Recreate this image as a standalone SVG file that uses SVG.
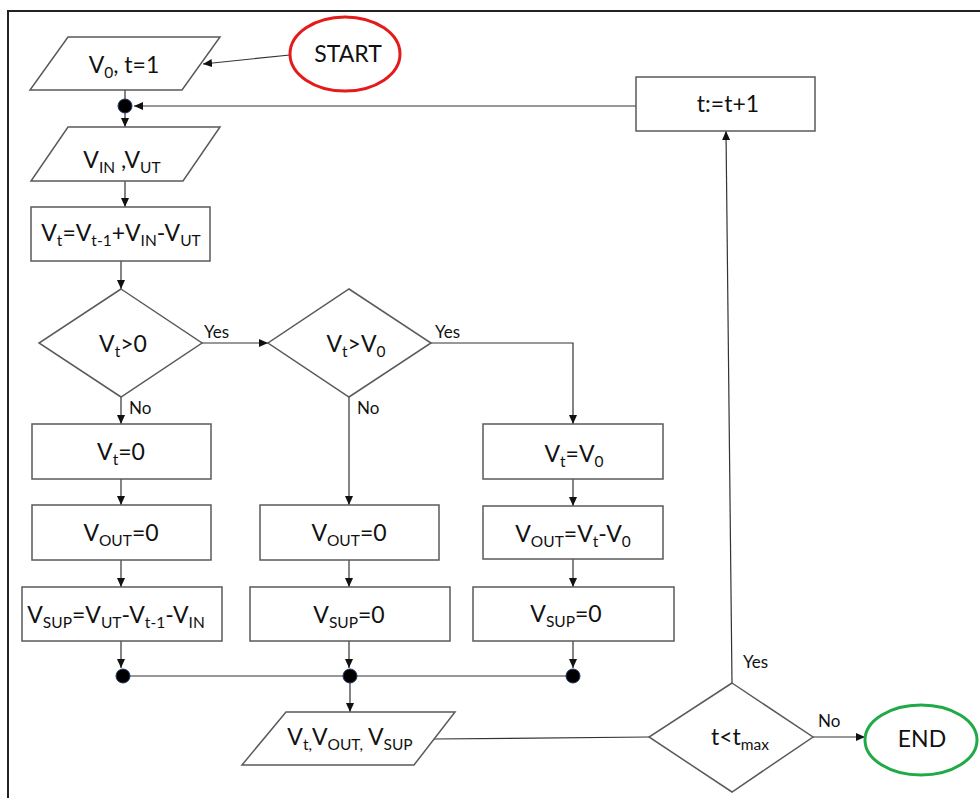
<svg xmlns="http://www.w3.org/2000/svg" width="980" height="798" viewBox="0 0 980 798">
<style>
.shape{fill:#fff;stroke:#5a5a5a;stroke-width:1.5}
.conn{fill:none;stroke:#333;stroke-width:1.2}
.arr{marker-end:url(#ah)}
.dot{fill:#000;stroke:#1f3864;stroke-width:1}
.t{font-family:Lato,"Liberation Sans",sans-serif;font-size:23px;fill:#111;text-anchor:middle}
.s{font-size:15.5px}
.lb{font-family:Lato,"Liberation Sans",sans-serif;font-size:17px;fill:#111}
</style>
<defs>
<marker id="ah" markerUnits="userSpaceOnUse" markerWidth="10" markerHeight="8" refX="9" refY="4" orient="auto">
<path d="M0,0 L9,4 L0,8 z" fill="#111"/>
</marker>
</defs>
<rect width="980" height="798" fill="#fff"/>
<path d="M8,798 V11 H980" fill="none" stroke="#222" stroke-width="2"/>

<g id="connectors">
<line class="conn arr" x1="290" y1="55" x2="203" y2="64"/>
<line class="conn" x1="125" y1="90" x2="125" y2="100"/>
<line class="conn arr" x1="636" y1="106" x2="134" y2="106"/>
<line class="conn arr" x1="125" y1="112" x2="125" y2="127"/>
<line class="conn arr" x1="125" y1="181" x2="125" y2="207"/>
<line class="conn arr" x1="121" y1="261" x2="121" y2="289"/>
<line class="conn arr" x1="202" y1="343" x2="268" y2="343"/>
<line class="conn arr" x1="121" y1="397" x2="121" y2="424"/>
<line class="conn arr" x1="121" y1="479" x2="121" y2="505"/>
<line class="conn arr" x1="121" y1="560" x2="121" y2="587"/>
<line class="conn arr" x1="121" y1="641" x2="121" y2="668"/>
<line class="conn arr" x1="349" y1="397" x2="349" y2="505"/>
<line class="conn arr" x1="349" y1="560" x2="349" y2="587"/>
<line class="conn arr" x1="349" y1="641" x2="349" y2="668"/>
<polyline class="conn arr" points="431,343 573,343 573,424"/>
<line class="conn arr" x1="573" y1="479" x2="573" y2="506"/>
<line class="conn arr" x1="573" y1="559" x2="573" y2="587"/>
<line class="conn arr" x1="573" y1="641" x2="573" y2="668"/>
<line class="conn" x1="123" y1="676" x2="573" y2="676"/>
<line class="conn arr" x1="350" y1="683" x2="350" y2="712"/>
<line class="conn" x1="433" y1="739" x2="649" y2="737"/>
<line class="conn arr" x1="732" y1="683" x2="726" y2="131"/>
<line class="conn arr" x1="813" y1="737" x2="865" y2="737"/>
<text class="lb" x="204" y="338">Yes</text>
<text class="lb" x="435" y="338">Yes</text>
<text class="lb" x="129" y="414">No</text>
<text class="lb" x="357" y="414">No</text>
<text class="lb" x="743" y="668">Yes</text>
<text class="lb" x="818" y="727">No</text>
</g>

<g id="start">
<ellipse cx="345" cy="54" rx="55" ry="37" fill="#fff" stroke="#e31b1b" stroke-width="3"/>
<text class="t" x="348" y="62">START</text>
</g>
<g id="init">
<polygon class="shape" points="68,37 220,37 182,90 30,90"/>
<text class="t" x="124" y="73">V<tspan class="s" dy="5">0</tspan><tspan dy="-5">, t=1</tspan></text>
</g>
<g id="junction-top"><circle class="dot" cx="125" cy="106" r="7"/></g>
<g id="input">
<polygon class="shape" points="68,127 220,127 183,181 31,181"/>
<text class="t" x="122" y="168">V<tspan class="s" dy="5">IN</tspan><tspan dy="-5"> ,V</tspan><tspan class="s" dy="5">UT</tspan></text>
</g>
<g id="balance">
<rect class="shape" x="31" y="207" width="179" height="54"/>
<text class="t" x="121" y="241">V<tspan class="s" dy="5">t</tspan><tspan dy="-5">=V</tspan><tspan class="s" dy="5">t-1</tspan><tspan dy="-5">+V</tspan><tspan class="s" dy="5">IN</tspan><tspan dy="-5">-V</tspan><tspan class="s" dy="5">UT</tspan></text>
</g>
<g id="dec1">
<polygon class="shape" points="121,289 202,343 121,397 39,343"/>
<text class="t" x="123" y="352">V<tspan class="s" dy="5">t</tspan><tspan dy="-5">&gt;0</tspan></text>
</g>
<g id="dec2">
<polygon class="shape" points="349,289 431,343 349,397 268,343"/>
<text class="t" x="356" y="352">V<tspan class="s" dy="5">t</tspan><tspan dy="-5">&gt;V</tspan><tspan class="s" dy="5">0</tspan></text>
</g>
<g id="vt0">
<rect class="shape" x="32" y="424" width="179" height="55"/>
<text class="t" x="121" y="460">V<tspan class="s" dy="5">t</tspan><tspan dy="-5">=0</tspan></text>
</g>
<g id="vout0-left">
<rect class="shape" x="32" y="505" width="179" height="55"/>
<text class="t" x="121" y="541">V<tspan class="s" dy="5">OUT</tspan><tspan dy="-5">=0</tspan></text>
</g>
<g id="vsup-left">
<rect class="shape" x="22" y="587" width="200" height="54"/>
<text class="t" x="116" y="623">V<tspan class="s" dy="5">SUP</tspan><tspan dy="-5">=V</tspan><tspan class="s" dy="5">UT</tspan><tspan dy="-5">-V</tspan><tspan class="s" dy="5">t-1</tspan><tspan dy="-5">-V</tspan><tspan class="s" dy="5">IN</tspan></text>
</g>
<g id="vout0-mid">
<rect class="shape" x="260" y="505" width="179" height="55"/>
<text class="t" x="349" y="541">V<tspan class="s" dy="5">OUT</tspan><tspan dy="-5">=0</tspan></text>
</g>
<g id="vsup-mid">
<rect class="shape" x="250" y="587" width="200" height="54"/>
<text class="t" x="349" y="623">V<tspan class="s" dy="5">SUP</tspan><tspan dy="-5">=0</tspan></text>
</g>
<g id="vtv0">
<rect class="shape" x="483" y="424" width="180" height="55"/>
<text class="t" x="574" y="462">V<tspan class="s" dy="5">t</tspan><tspan dy="-5">=V</tspan><tspan class="s" dy="5">0</tspan></text>
</g>
<g id="vout-right">
<rect class="shape" x="483" y="506" width="180" height="53"/>
<text class="t" x="573" y="542">V<tspan class="s" dy="5">OUT</tspan><tspan dy="-5">=V</tspan><tspan class="s" dy="5">t</tspan><tspan dy="-5">-V</tspan><tspan class="s" dy="5">0</tspan></text>
</g>
<g id="vsup-right">
<rect class="shape" x="473" y="587" width="201" height="54"/>
<text class="t" x="566" y="622">V<tspan class="s" dy="5">SUP</tspan><tspan dy="-5">=0</tspan></text>
</g>
<g id="junction-left"><circle class="dot" cx="123" cy="676" r="7"/></g>
<g id="junction-mid"><circle class="dot" cx="350" cy="676" r="7"/></g>
<g id="junction-right"><circle class="dot" cx="573" cy="676" r="7"/></g>
<g id="output">
<polygon class="shape" points="286,712 455,712 414,765 242,765"/>
<text class="t" x="350" y="745">V<tspan class="s" dy="5">t,</tspan><tspan dy="-5">V</tspan><tspan class="s" dy="5">OUT,</tspan><tspan dy="-5"> V</tspan><tspan class="s" dy="5">SUP</tspan></text>
</g>
<g id="dec3">
<polygon class="shape" points="732,683 813,737 732,792 649,737"/>
<text class="t" x="740" y="745">t&lt;t<tspan class="s" dy="5">max</tspan></text>
</g>
<g id="end">
<ellipse cx="921" cy="740" rx="56" ry="35" fill="#fff" stroke="#1faa45" stroke-width="3"/>
<text class="t" x="922" y="747">END</text>
</g>
<g id="incr">
<rect class="shape" x="636" y="77" width="179" height="54"/>
<text class="t" x="728" y="112">t:=t+1</text>
</g>
</svg>
